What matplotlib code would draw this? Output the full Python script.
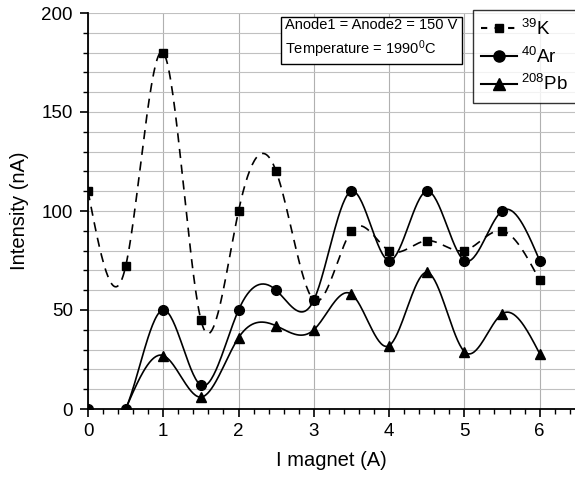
import numpy as np
import matplotlib
matplotlib.use("Agg")
import matplotlib.pyplot as plt
from matplotlib.ticker import MultipleLocator
from matplotlib.lines import Line2D

plt.rcParams['font.family'] = ['Liberation Sans', 'DejaVu Sans']
plt.rcParams['mathtext.fontset'] = 'custom'
plt.rcParams['mathtext.rm'] = 'Liberation Sans'
plt.rcParams['mathtext.it'] = 'Liberation Sans'
plt.rcParams['mathtext.bf'] = 'Liberation Sans'

# Data
x_k = [0, 0.5, 1, 1.5, 2, 2.5, 3, 3.5, 4, 4.5, 5, 5.5, 6]
k39 = [110, 72, 180, 45, 100, 120, 55, 90, 80, 85, 80, 90, 65]
x_ar = [0, 0.5, 1, 1.5, 2, 2.5, 3, 3.5, 4, 4.5, 5, 5.5, 6]
ar40 = [0, 0, 50, 12, 50, 60, 55, 110, 75, 110, 75, 100, 75]
x_pb = [0.5, 1, 1.5, 2, 2.5, 3, 3.5, 4, 4.5, 5, 5.5, 6]
pb208 = [0, 27, 6, 36, 42, 40, 58, 32, 69, 29, 48, 28]
legend_labels = [r'$^{39}$K', r'$^{40}$Ar', r'$^{208}$Pb']


def natural_spline(x, y, n=400):
    x = np.asarray(x, float)
    y = np.asarray(y, float)
    m = len(x)
    h = np.diff(x)
    A = np.zeros((m, m))
    b = np.zeros(m)
    A[0, 0] = 1
    A[-1, -1] = 1
    for i in range(1, m - 1):
        A[i, i - 1] = h[i - 1]
        A[i, i] = 2 * (h[i - 1] + h[i])
        A[i, i + 1] = h[i]
        b[i] = 3 * ((y[i + 1] - y[i]) / h[i] - (y[i] - y[i - 1]) / h[i - 1])
    c = np.linalg.solve(A, b)
    xs = np.linspace(x[0], x[-1], n)
    idx = np.clip(np.searchsorted(x, xs) - 1, 0, m - 2)
    dx = xs - x[idx]
    bb = (y[1:] - y[:-1]) / h - h * (2 * c[:-1] + c[1:]) / 3
    dd = (c[1:] - c[:-1]) / (3 * h)
    ys = y[idx] + bb[idx] * dx + c[idx] * dx ** 2 + dd[idx] * dx ** 3
    return xs, ys


fig = plt.figure(figsize=(5.75, 4.82), dpi=100)
ax = fig.add_axes([88 / 575, (482 - 409) / 482, (575 - 88) / 575, 396 / 482])

ax.set_xlim(0, 6.47)
ax.set_ylim(0, 200)

ax.xaxis.set_major_locator(MultipleLocator(1))
ax.xaxis.set_minor_locator(MultipleLocator(0.2))
ax.yaxis.set_major_locator(MultipleLocator(50))
ax.yaxis.set_minor_locator(MultipleLocator(10))
ax.grid(True, which='major', axis='x', color='#b0b0b0', lw=0.8)
ax.grid(True, which='both', axis='y', color='#c0c0c0', lw=0.8)
ax.set_axisbelow(True)

for s in ['top', 'right']:
    ax.spines[s].set_visible(False)
for s in ['left', 'bottom']:
    ax.spines[s].set_linewidth(1.3)

ax.tick_params(which='major', direction='out', length=6, width=1.2, labelsize=13.5)
ax.tick_params(axis='y', which='major', pad=5)
ax.tick_params(axis='x', which='major', pad=4)
ax.tick_params(which='minor', direction='out', length=3.5, width=1.0)
ax.tick_params(axis='y', which='both', right=False)
ax.tick_params(axis='x', which='both', top=False)

# K
xs, ys = natural_spline(x_k, k39)
ax.plot(xs, ys, color='black', lw=1.2, dashes=(5.5, 4))
ax.plot(x_k, k39, 's', color='black', ms=5.5)
# Ar
xs, ys = natural_spline(x_ar, ar40)
ax.plot(xs, ys, color='black', lw=1.2)
ax.plot(x_ar, ar40, 'o', color='black', ms=7)
# Pb
xs, ys = natural_spline(x_pb, pb208)
ax.plot(xs, ys, color='black', lw=1.2)
ax.plot(x_pb, pb208, '^', color='black', ms=7.5)

ax.set_xlabel('I magnet (A)', fontsize=14.5, labelpad=8)
ax.set_ylabel('Intensity (nA)', fontsize=14.5, labelpad=9)

handles = [
    Line2D([], [], color='black', lw=1.5, dashes=(3, 3.5), marker='s', ms=6),
    Line2D([], [], color='black', lw=1.5, marker='o', ms=8),
    Line2D([], [], color='black', lw=1.5, marker='^', ms=8.5),
]
leg = fig.legend(handles, legend_labels, loc='upper right',
                 bbox_to_anchor=(576 / 575, 1 - 10 / 482),
                 fontsize=13.5, frameon=True, fancybox=False, edgecolor='black',
                 handlelength=1.9, handletextpad=0.2, labelspacing=0.42,
                 borderpad=0.45, borderaxespad=0)
leg.get_frame().set_linewidth(1.0)

fig.text(285 / 575, 1 - 39 / 482, 'Anode1 = Anode2 = 150 V\nTemperature = 1990$^0$C',
         fontsize=10.5, va='center', ha='left', linespacing=1.4,
         bbox=dict(boxstyle='square,pad=0.3', fc='white', ec='black', lw=1.0))

fig.savefig('out.png', dpi=100)
